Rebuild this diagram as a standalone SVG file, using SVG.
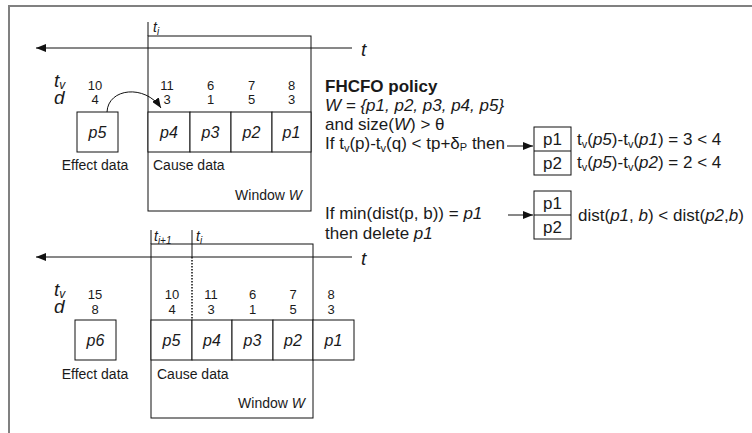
<svg xmlns="http://www.w3.org/2000/svg" width="752" height="433" viewBox="0 0 752 433">
  <defs>
    <marker id="ah" viewBox="0 0 10 8" refX="10" refY="4" markerWidth="10" markerHeight="8" markerUnits="userSpaceOnUse" orient="auto">
      <path d="M0,0 L10,4 L0,8 z" fill="#111"/>
    </marker>
  </defs>
  <style>
    text{font-family:"Liberation Sans",Arial,sans-serif;fill:#1a1a1a}
    .num{font-size:13px;text-anchor:middle}
    .cell{font-size:16px;font-style:italic;text-anchor:middle}
    .lab{font-size:14px}
    .var{font-size:19px;font-style:italic}
    .tick{font-size:14px;font-style:italic}
    .rt{font-size:17px}
    .it{font-style:italic}
    .ln{fill:none;stroke:#111;stroke-width:1}
    .box{fill:#fff;stroke:#111;stroke-width:1}
    .dot{fill:none;stroke:#111;stroke-width:1.5;stroke-dasharray:1.5 1.5}
    .frame{fill:none;stroke:#808080;stroke-width:2}
  </style>
  <rect x="0" y="0" width="752" height="433" fill="#fff"/>
  <path class="frame" d="M9,433 V6 H752"/>

  <!-- ===== upper timeline (time t_i) ===== -->
  <g id="window-ti">
    <rect class="ln" x="148" y="36" width="163" height="175"/>
    <line class="ln" x1="148" y1="22" x2="148" y2="36"/>
    <text class="tick" x="153" y="32">t<tspan font-size="10" dy="3">i</tspan></text>
    <text class="lab" x="153" y="170">Cause data</text>
    <text class="lab" x="302" y="200" text-anchor="end">Window <tspan class="it">W</tspan></text>
  </g>
  <g id="axis-labels-top">
    <text class="var" x="54" y="87">t<tspan font-size="12" dy="2">v</tspan></text>
    <text class="var" x="54" y="104">d</text>
    <text class="var" x="361" y="56" font-size="18">t</text>
  </g>
  <g id="p5-effect">
    <rect class="box" x="77" y="112" width="41" height="40"/>
    <text class="cell" x="97.5" y="138">p5</text>
    <text class="num" x="95" y="90">10</text>
    <text class="num" x="95" y="104">4</text>
    <text class="lab" x="95" y="170" text-anchor="middle">Effect data</text>
  </g>
  <g id="p4-top">
    <rect class="box" x="148" y="112" width="42" height="40"/>
    <text class="cell" x="169" y="138">p4</text>
    <text class="num" x="167" y="90">11</text>
    <text class="num" x="167" y="104">3</text>
  </g>
  <g id="p3-top">
    <rect class="box" x="190" y="112" width="41" height="40"/>
    <text class="cell" x="210.5" y="138">p3</text>
    <text class="num" x="210.5" y="90">6</text>
    <text class="num" x="210.5" y="104">1</text>
  </g>
  <g id="p2-top">
    <rect class="box" x="231" y="112" width="41" height="40"/>
    <text class="cell" x="251.5" y="138">p2</text>
    <text class="num" x="251.5" y="90">7</text>
    <text class="num" x="251.5" y="104">5</text>
  </g>
  <g id="p1-top">
    <rect class="box" x="272" y="112" width="39" height="40"/>
    <text class="cell" x="291.5" y="138">p1</text>
    <text class="num" x="291.5" y="90">8</text>
    <text class="num" x="291.5" y="104">3</text>
  </g>

  <!-- ===== policy text ===== -->
  <g id="policy">
    <text class="rt" x="325" y="92" font-weight="bold">FHCFO policy</text>
    <text class="rt it" x="325" y="111">W = {p1, p2, p3, p4, p5}</text>
    <text class="rt" x="325" y="130">and size(<tspan class="it">W</tspan>) &gt; θ</text>
    <text class="rt" x="325" y="149">If t<tspan font-size="11" dy="3">v</tspan><tspan dy="-3">(p)-t</tspan><tspan font-size="11" dy="3">v</tspan><tspan dy="-3">(q) &lt; tp+δ</tspan><tspan font-size="11" dy="2">P</tspan><tspan dy="-2"> then</tspan></text>
    <text class="rt" x="325" y="219">If min(dist(p, b)) = <tspan class="it">p1</tspan></text>
    <text class="rt" x="325" y="239">then delete <tspan class="it">p1</tspan></text>
  </g>
  <g id="pair-time">
    <rect class="box" x="534" y="127" width="37" height="48"/>
    <line class="ln" x1="534" y1="151" x2="571" y2="151"/>
    <text class="rt" x="552.5" y="145" text-anchor="middle">p1</text>
    <text class="rt" x="552.5" y="169" text-anchor="middle">p2</text>
    <text class="rt" x="577" y="145">t<tspan font-size="11" dy="3">v</tspan><tspan dy="-3">(</tspan><tspan class="it">p5</tspan>)-t<tspan font-size="11" dy="3">v</tspan><tspan dy="-3">(</tspan><tspan class="it">p1</tspan>) = 3 &lt; 4</text>
    <text class="rt" x="577" y="168">t<tspan font-size="11" dy="3">v</tspan><tspan dy="-3">(</tspan><tspan class="it">p5</tspan>)-t<tspan font-size="11" dy="3">v</tspan><tspan dy="-3">(</tspan><tspan class="it">p2</tspan>) = 2 &lt; 4</text>
  </g>
  <g id="pair-dist">
    <rect class="box" x="534" y="191" width="37" height="48"/>
    <line class="ln" x1="534" y1="215" x2="571" y2="215"/>
    <text class="rt" x="552.5" y="209" text-anchor="middle">p1</text>
    <text class="rt" x="552.5" y="233" text-anchor="middle">p2</text>
    <text class="rt" x="578" y="221">dist(<tspan class="it">p1</tspan>, <tspan class="it">b</tspan>) &lt; dist(<tspan class="it">p2</tspan>,<tspan class="it">b</tspan>)</text>
  </g>

  <!-- ===== lower timeline (time t_i+1) ===== -->
  <g id="window-ti1">
    <rect class="ln" x="151" y="244" width="162" height="174"/>
    <line class="ln" x1="151" y1="230" x2="151" y2="244"/>
    <line class="ln" x1="192" y1="230" x2="192" y2="257"/>
    <line class="dot" x1="192" y1="257" x2="192" y2="320"/>
    <text class="tick" x="154" y="241">t<tspan font-size="10" dy="3">i+1</tspan></text>
    <text class="tick" x="196" y="241">t<tspan font-size="10" dy="3">i</tspan></text>
    <text class="lab" x="157" y="379">Cause data</text>
    <text class="lab" x="305" y="408" text-anchor="end">Window <tspan class="it">W</tspan></text>
  </g>
  <g id="axis-labels-bottom">
    <text class="var" x="54" y="296">t<tspan font-size="12" dy="2">v</tspan></text>
    <text class="var" x="54" y="313">d</text>
    <text class="var" x="361" y="265" font-size="18">t</text>
  </g>
  <g id="p6-effect">
    <rect class="box" x="75" y="320" width="41" height="40"/>
    <text class="cell" x="95.5" y="346">p6</text>
    <text class="num" x="95" y="299">15</text>
    <text class="num" x="95" y="314">8</text>
    <text class="lab" x="95" y="379" text-anchor="middle">Effect data</text>
  </g>
  <g id="p5-bottom">
    <rect class="box" x="151" y="320" width="41" height="40"/>
    <text class="cell" x="171.5" y="346">p5</text>
    <text class="num" x="172" y="299">10</text>
    <text class="num" x="172" y="314">4</text>
  </g>
  <g id="p4-bottom">
    <rect class="box" x="192" y="320" width="40" height="40"/>
    <text class="cell" x="212" y="346">p4</text>
    <text class="num" x="211" y="299">11</text>
    <text class="num" x="211" y="314">3</text>
  </g>
  <g id="p3-bottom">
    <rect class="box" x="232" y="320" width="41" height="40"/>
    <text class="cell" x="252.5" y="346">p3</text>
    <text class="num" x="252.5" y="299">6</text>
    <text class="num" x="252.5" y="314">1</text>
  </g>
  <g id="p2-bottom">
    <rect class="box" x="273" y="320" width="40" height="40"/>
    <text class="cell" x="293" y="346">p2</text>
    <text class="num" x="293" y="299">7</text>
    <text class="num" x="293" y="314">5</text>
  </g>
  <g id="p1-bottom">
    <rect class="box" x="313" y="320" width="41" height="40"/>
    <text class="cell" x="333.5" y="346">p1</text>
    <text class="num" x="331" y="299">8</text>
    <text class="num" x="331" y="314">3</text>
  </g>

  <!-- ===== connectors ===== -->
  <g id="connectors">
    <path class="ln" d="M352,48 H36" marker-end="url(#ah)"/>
    <path class="ln" d="M352,257 H36" marker-end="url(#ah)"/>
    <path class="ln" d="M107,112 C108,88 145,84 161,108" marker-end="url(#ah)"/>
    <path class="ln" d="M507,146 H533" marker-end="url(#ah)"/>
    <path class="ln" d="M508,215 H533" marker-end="url(#ah)"/>
  </g>
</svg>
